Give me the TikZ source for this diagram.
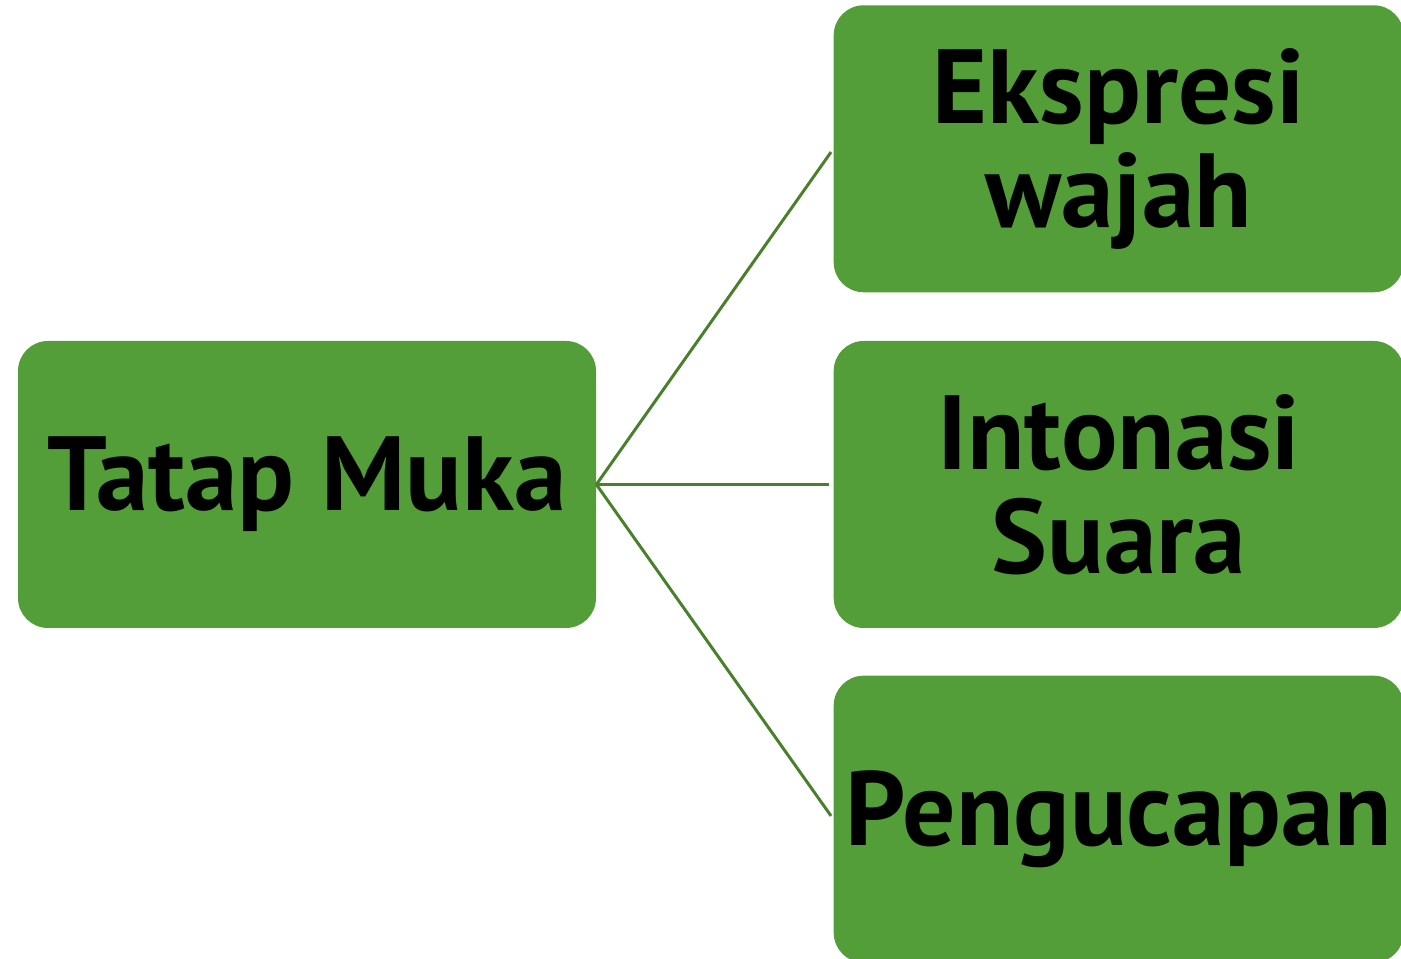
\documentclass[tikz,border=0pt]{standalone}
\usepackage{fontspec}
\setmainfont{PT Sans}
\usetikzlibrary{positioning}
\definecolor{boxgreen}{RGB}{84,158,57}
\definecolor{linegreen}{RGB}{72,128,44}

\begin{document}
\begin{tikzpicture}
		\tikzstyle{topicblock} = [rectangle, fill = boxgreen, rounded corners = 0.6cm, align = center, minimum height = 5.74cm, inner sep = 0mm, font = \bfseries\fontsize{60}{59}\selectfont];
		\tikzstyle{branch} = [draw, linegreen, line width = 1.7pt, shorten > = 0.08cm];
		\useasboundingbox (0,0) rectangle (28.02,19.18);
		\node (tatap) at (6.14,9.49) [topicblock, minimum width = 11.56cm] {Tatap Muka};
		\node (intonasi) [topicblock, minimum width = 11.4cm, right=4.74cm of tatap] {Intonasi\\Suara};
		\node (ekspresi) [topicblock, minimum width = 11.4cm, above=0.96cm of intonasi] {Ekspresi\\wajah};
		\node (ucap) [topicblock, minimum width = 11.4cm, below=0.94cm of intonasi] {Pengucapan};
		\path [branch] (tatap.east) -- (ekspresi.west);
		\path [branch] (tatap.east) -- (intonasi.west);
		\path [branch] (tatap.east) -- (ucap.west);
	\end{tikzpicture}
\end{document}
